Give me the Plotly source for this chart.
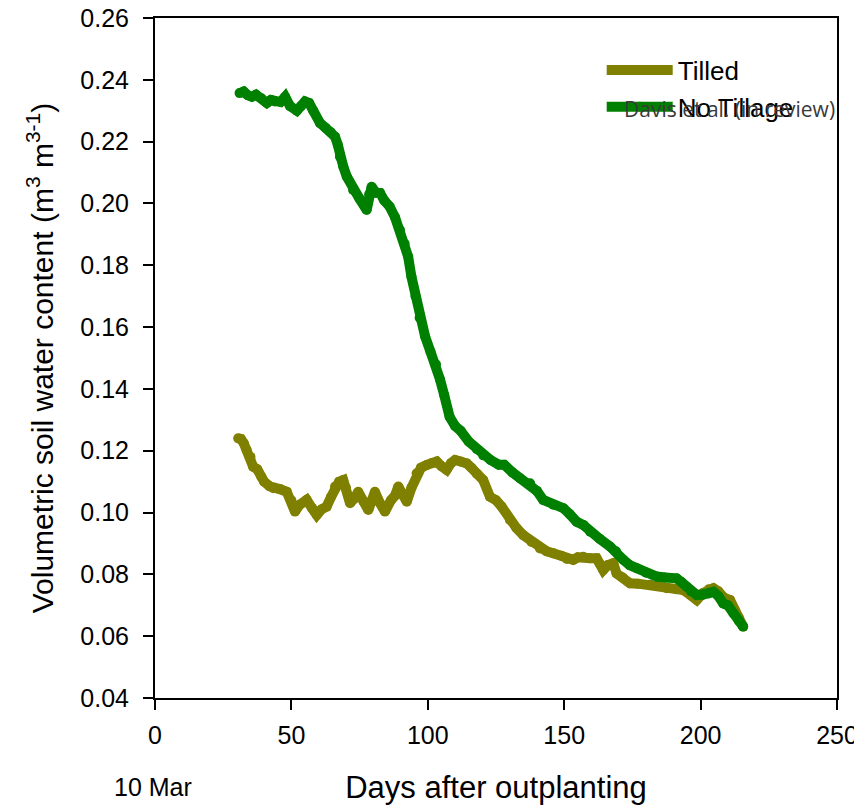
import plotly.graph_objects as go

# ---- data ----
tilled_days = [30.5, 31.5, 32.5, 33.6, 35, 36, 37.5, 39, 40, 42, 43.4, 46, 48.3, 50, 51.3, 53, 55.6, 57.5,
               59.3, 61, 62.9, 64.5, 66, 67.5, 69, 70, 71.5, 73, 74.5, 76.5, 78.2, 79.5, 80.6, 82.5, 84.3,
               86.5, 88, 89.2, 90.5, 92.3, 94, 95.9, 97.5, 99.6, 101.5, 103.3, 105, 106.9, 108.5, 110, 112,
               114.3, 116, 118, 120.3, 122.8, 125, 127, 130.1, 132.5, 135, 138, 141.1, 143.5, 146, 149, 151,
               153.3, 155, 157, 159.5, 161.9, 163, 164.3, 166, 168, 169.2, 171.5, 174.1, 177, 181.5, 184,
               187.6, 191, 193.7, 196, 198.6, 201, 203, 204.7, 206.5, 208.5, 210.8, 212.5, 214, 215.6]
tilled_vwc = [0.1240, 0.1238, 0.1225, 0.1202, 0.1180, 0.1148, 0.1140, 0.1115, 0.1100, 0.1085, 0.1079, 0.1075,
              0.1067, 0.1040, 0.1003, 0.1025, 0.1041, 0.1015, 0.0992, 0.1010, 0.1019, 0.1050, 0.1084, 0.1100,
              0.1105, 0.1080, 0.1030, 0.1045, 0.1067, 0.1035, 0.1008, 0.1040, 0.1067, 0.1030, 0.1003, 0.1040,
              0.1055, 0.1084, 0.1060, 0.1035, 0.1080, 0.1127, 0.1145, 0.1154, 0.1160, 0.1165, 0.1150, 0.1138,
              0.1160, 0.1170, 0.1165, 0.1159, 0.1145, 0.1125, 0.1105, 0.1051, 0.1040, 0.1020, 0.0976, 0.0950,
              0.0927, 0.0905, 0.0884, 0.0875, 0.0868, 0.0860, 0.0850, 0.0847, 0.0855, 0.0857, 0.0852, 0.0852,
              0.0835, 0.0814, 0.0830, 0.0836, 0.0803, 0.0790, 0.0771, 0.0770, 0.0766, 0.0762, 0.0755, 0.0752,
              0.0749, 0.0735, 0.0717, 0.0740, 0.0752, 0.0755, 0.0745, 0.0725, 0.0717, 0.0685, 0.0660, 0.0631]

notill_days = [31, 32.5, 34, 35.5, 37, 39, 41, 42.5, 44, 46, 47.7, 49.5, 52, 53.5, 55, 56.5, 58, 60.5, 62.5,
               64.5, 66, 67, 67.8, 69, 70.3, 72.6, 75, 77.6, 78.5, 79.4, 81, 82.5, 84, 86, 88, 89.8, 91.5,
               92.8, 94, 95.5, 97, 99, 101, 103, 104.5, 106, 108, 110, 112, 115, 118, 120.3, 123, 126, 128,
               131, 133.8, 137.5, 140, 142.3, 146, 149.7, 152, 154.6, 157, 159.5, 163, 166.8, 169, 171.7, 174,
               176.6, 180, 183.9, 187, 191.2, 193, 194.9, 196.5, 198.6, 201, 203, 204.7, 206.5, 208.3, 210,
               212, 214, 215.6]
notill_vwc = [0.2357, 0.2362, 0.2350, 0.2345, 0.2352, 0.2340, 0.2325, 0.2335, 0.2330, 0.2328, 0.2345, 0.2315,
              0.2300, 0.2315, 0.2330, 0.2325, 0.2300, 0.2260, 0.2245, 0.2230, 0.2216, 0.2190, 0.2151, 0.2120,
              0.2087, 0.2044, 0.2015, 0.1979, 0.2030, 0.2054, 0.2035, 0.2034, 0.2010, 0.1990, 0.1955, 0.1914,
              0.1870, 0.1828, 0.1763, 0.1700, 0.1630, 0.1570, 0.1520, 0.1480, 0.1430, 0.1380, 0.1310, 0.1280,
              0.1265, 0.1230, 0.1205, 0.1185, 0.1170, 0.1155, 0.1155, 0.1130, 0.1111, 0.1095, 0.1070, 0.1041,
              0.1025, 0.1014, 0.0995, 0.0970, 0.0960, 0.0938, 0.0915, 0.0890, 0.0875, 0.0847, 0.0830, 0.0820,
              0.0805, 0.0793, 0.0790, 0.0787, 0.0775, 0.0760, 0.0745, 0.0733, 0.0735, 0.0738, 0.0744, 0.0730,
              0.0706, 0.0700, 0.0674, 0.0650, 0.0631]

x_ticks = [0, 50, 100, 150, 200, 250]
y_ticks = [0.04, 0.06, 0.08, 0.10, 0.12, 0.14, 0.16, 0.18, 0.20, 0.22, 0.24, 0.26]

FONT = "Liberation Sans, Arial, sans-serif"

fig = go.Figure()
fig.add_trace(go.Scatter(x=tilled_days, y=tilled_vwc, name="Tilled", mode="lines+markers",
                         line=dict(color="#808000", width=10),
                         marker=dict(color="#808000", size=10)))
fig.add_trace(go.Scatter(x=notill_days, y=notill_vwc, name="No Tillage", mode="lines+markers",
                         line=dict(color="#008000", width=10),
                         marker=dict(color="#008000", size=10)))

axis_common = dict(showline=True, linecolor="black", linewidth=2, mirror=True, ticks="outside",
                   ticklen=10, tickwidth=1.5, tickcolor="black", showgrid=False, zeroline=False,
                   automargin=False, ticklabeloverflow="allow",
                   tickfont=dict(family=FONT, size=25, color="black"))

fig.update_xaxes(range=[0, 250], tickvals=x_ticks, ticktext=[str(v) for v in x_ticks],
                 ticklabelstandoff=4,
                 title=dict(text="Days after outplanting", standoff=28,
                            font=dict(family=FONT, size=31, color="black")),
                 **axis_common)
fig.update_yaxes(range=[0.04, 0.26], tickvals=y_ticks, ticktext=[f"{v:.2f}" for v in y_ticks],
                 ticklabelstandoff=9,
                 title=dict(text="Volumetric soil water content (m<sup>3</sup> m<sup>3-1</sup>)", standoff=18,
                            font=dict(family=FONT, size=30, color="black")),
                 **axis_common)

fig.add_annotation(text="10 Mar", xref="paper", yref="paper", x=-0.003, y=-0.131,
                   xanchor="center", yanchor="middle", showarrow=False,
                   font=dict(family=FONT, size=25, color="black"))
fig.add_annotation(text="Davis et al. (in review)", xref="paper", yref="paper", x=1.0, y=0.866,
                   xanchor="right", yanchor="middle", showarrow=False,
                   font=dict(family="Open Sans", size=21, color="#3a3a3a"))

# page body has an 8px margin: figure is sized/offset so the plot area lands at the reference pixels
fig.update_layout(
    width=854, height=804,
    margin=dict(l=147, r=25, t=10, b=114, autoexpand=False),
    paper_bgcolor="white", plot_bgcolor="white",
    legend=dict(x=0.655, y=0.958, xanchor="left", yanchor="top", bgcolor="rgba(0,0,0,0)",
                font=dict(family=FONT, size=26, color="black"),
                itemwidth=66, tracegroupgap=0),
    showlegend=True,
)

fig.write_html("out.html")
